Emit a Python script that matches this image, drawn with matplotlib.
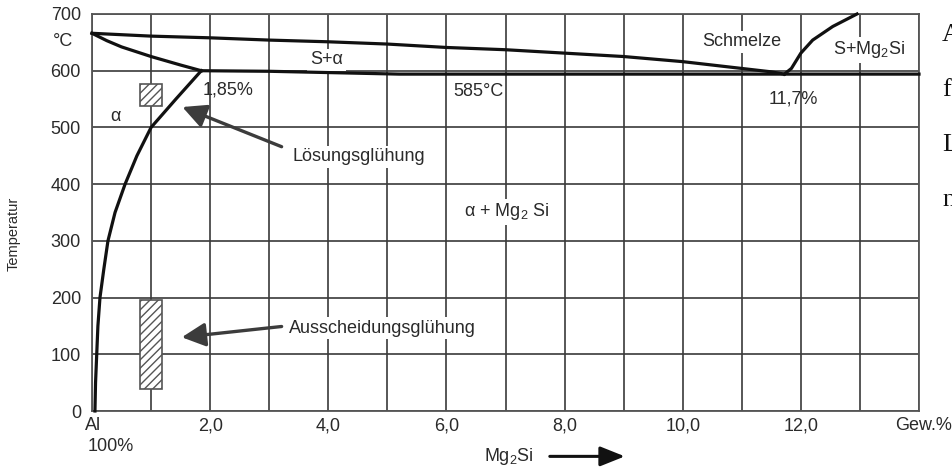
import matplotlib
matplotlib.use('Agg')
import matplotlib.pyplot as plt
import numpy as np
from matplotlib.patches import Rectangle

plt.rcParams['font.family'] = ['Liberation Sans', 'DejaVu Sans']
plt.rcParams['mathtext.fontset'] = 'custom'
plt.rcParams['mathtext.rm'] = 'Liberation Sans'
plt.rcParams['mathtext.it'] = 'Liberation Sans:italic'
plt.rcParams['hatch.color'] = '#6a6a6a'
plt.rcParams['hatch.linewidth'] = 1.0

# ---------------- data ----------------
# liquidus of the Al-rich side (S / S+alpha boundary)
liquidus_x = [0, 1, 2, 3, 4, 5, 6, 7, 8, 9, 10, 11, 11.5, 11.72]
liquidus_T = [666, 661, 658, 654, 651, 647, 641, 637, 631, 625, 616, 604, 598, 594]
# solidus of alpha
solidus_x = [0, 0.25, 0.5, 1.0, 1.5, 1.85]
solidus_T = [666, 653, 642, 625, 610, 600]
# solvus (solubility of Mg2Si in alpha)
solvus_x = [1.85, 1.42, 1.0, 0.76, 0.56, 0.39, 0.27, 0.2, 0.135, 0.1, 0.08, 0.06, 0.05]
solvus_T = [600, 550, 500, 450, 400, 350, 300, 250, 200, 150, 100, 50, 0]
# eutectic line (585 degC)
eutectic_x = [1.85, 3.0, 5.2, 14.0]
eutectic_T = [600, 599, 594, 594]
# liquidus on the Mg2Si side
mg2si_liq_x = [11.72, 11.84, 12.0, 12.2, 12.54, 12.95]
mg2si_liq_T = [594, 604, 631, 654, 678, 700]

# heat-treatment windows (x range, T range)
solution_box = (0.82, 1.18, 538, 576)
aging_box = (0.82, 1.18, 38, 196)

x_tick_vals = [2, 4, 6, 8, 10, 12]
x_tick_labels = ['2,0', '4,0', '6,0', '8,0', '10,0', '12,0']
y_tick_vals = [0, 100, 200, 300, 400, 500, 600, 700]
y_tick_labels = ['0', '100', '200', '300', '400', '500', '600', '700']

# ---------------- figure ----------------
fig = plt.figure(figsize=(9.52, 4.68), dpi=100)
ax = fig.add_axes([92 / 952, 1 - 411 / 468, 827 / 952, 397 / 468])
ax.set_xlim(0, 14)
ax.set_ylim(0, 700)

ax.set_xticks(x_tick_vals, x_tick_labels)
ax.set_xticks(np.arange(0, 15, 1), minor=True)
ax.set_yticks(y_tick_vals, y_tick_labels)
ax.tick_params(which='both', length=0)
ax.tick_params(axis='x', pad=5, labelsize=13, colors='#2a2a2a')
ax.tick_params(axis='y', pad=8, labelsize=13, colors='#2a2a2a')
ax.set_axisbelow(True)
ax.grid(which='both', color='#3a3a3a', lw=1.2)
for sp in ax.spines.values():
    sp.set_color('#555555')
    sp.set_linewidth(1.3)

tc = '#2a2a2a'
lw_curve = 2.3
for xs, ts in [(liquidus_x, liquidus_T), (solidus_x, solidus_T),
               (solvus_x, solvus_T), (eutectic_x, eutectic_T),
               (mg2si_liq_x, mg2si_liq_T)]:
    ax.plot(xs, ts, color='#111111', lw=lw_curve, zorder=5,
            solid_joinstyle='round', clip_on=False)

for (x0, x1, t0, t1) in [solution_box, aging_box]:
    ax.add_patch(Rectangle((x0, t0), x1 - x0, t1 - t0, facecolor='white',
                           edgecolor='#555555', lw=1.2, hatch='////', zorder=3))

bb = dict(boxstyle='square,pad=0.15', facecolor='white', edgecolor='none')

# region labels
ax.text(3.97, 619, 'S+α', fontsize=13, color=tc, ha='center', va='center', bbox=bb, zorder=3)
ax.text(0.39, 520, 'α', fontsize=13, color=tc, ha='center', va='center', zorder=3)
ax.text(1.87, 566, '1,85%', fontsize=13, color=tc, ha='left', va='center', zorder=3)
ax.text(6.55, 563, '585°C', fontsize=13, color=tc, ha='center', va='center', zorder=3)
ax.text(11.0, 651, 'Schmelze', fontsize=13, color=tc, ha='center', va='center', bbox=bb, zorder=3)
ax.text(13.15, 637, r'S+Mg$_{\rm 2}$Si', fontsize=13, color=tc, ha='center', va='center', bbox=bb, zorder=3)
ax.text(11.87, 551, '11,7%', fontsize=13, color=tc, ha='center', va='center', zorder=3)
ax.text(7.02, 351, r'α + Mg$_{\rm 2}$ Si', fontsize=13, color=tc, ha='center', va='center', bbox=bb, zorder=3)

# annotations with arrows
arrow_kw = dict(arrowstyle='-|>,head_length=0.9,head_width=0.45', lw=2.4,
                color='#3c3c3c', mutation_scale=16, shrinkA=0, shrinkB=0)
ax.text(3.40, 448, 'Lösungsglühung', fontsize=13, color=tc, ha='left', va='center', bbox=bb, zorder=3)
ax.annotate('', xy=(1.53, 536), xytext=(3.21, 466), arrowprops=arrow_kw, zorder=6)
ax.text(3.33, 146, 'Ausscheidungsglühung', fontsize=13, color=tc, ha='left', va='center', bbox=bb, zorder=3)
ax.annotate('', xy=(1.52, 130), xytext=(3.21, 149), arrowprops=arrow_kw, zorder=6)

# axis texts
ax.text(-0.49, 651, '°C', fontsize=13, color=tc, ha='center', va='center', clip_on=False)
ax.text(-0.12, -25, 'Al', fontsize=13, color=tc, ha='left', va='center', clip_on=False)
ax.text(-0.08, -63, '100%', fontsize=13, color=tc, ha='left', va='center', clip_on=False)
ax.text(13.59, -25, 'Gew.%', fontsize=13, color=tc, ha='left', va='center', clip_on=False)
ax.text(7.05, -80, r'Mg$_{\rm 2}$Si', fontsize=13, color=tc, ha='center', va='center', clip_on=False)
ax.annotate('', xy=(9.02, -80), xytext=(7.75, -80), annotation_clip=False,
            arrowprops=dict(arrowstyle='-|>,head_length=1.0,head_width=0.4', lw=2.2,
                            color='#111111', mutation_scale=15, shrinkA=0, shrinkB=0))
ax.text(-1.33, 312, 'Temperatur', fontsize=10.5, color=tc, rotation=90,
        ha='center', va='center', clip_on=False)

# cut-off text of the surrounding document on the right edge
for ch, ypx in [('A', 35), ('f', 90), ('L', 145), ('n', 200)]:
    fig.text(942 / 952, 1 - ypx / 468, ch, fontsize=19, family='Liberation Serif',
             color='#111111', ha='left', va='center')

fig.savefig('out.png', dpi=100)
